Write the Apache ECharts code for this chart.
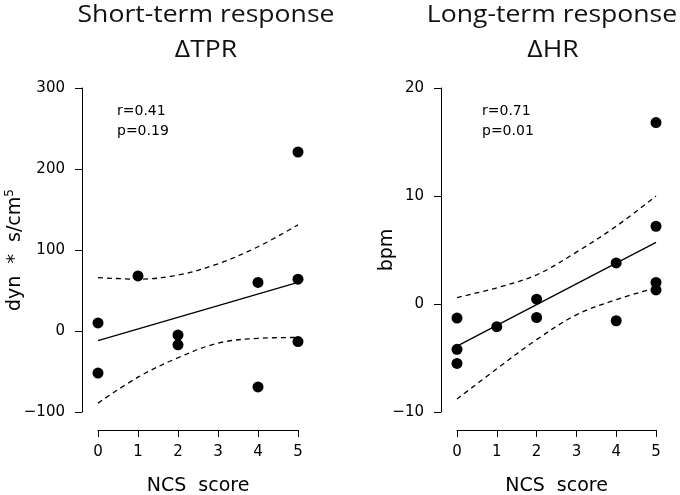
<!DOCTYPE html>
<html>
<head>
<meta charset="utf-8">
<script src="https://cdn.jsdelivr.net/npm/echarts@6/dist/echarts.min.js"></script>
<style>html,body{margin:0;padding:0;background:#fff;}#c{width:680px;height:495px;}</style>
</head>
<body>
<div id="c"></div>
<script>
// ---- data ----
var ncsTicks = [0, 1, 2, 3, 4, 5];

// Short-term response, delta TPR
var tprX = [0, 0, 1, 2, 2, 4, 4, 5, 5, 5];
var tprY = [10, -52, 68, -5, -17, 60, -69, 64, -13, 221];
var tprFitX = [0, 5];
var tprFitY = [-12, 60];
var tprBandX = [0, 1, 2, 3, 4, 5];
var tprUpper = [66, 64, 69, 83, 104, 131];
var tprLower = [-89, -57, -33, -15, -9, -8];

// Long-term response, delta HR
var hrX = [0, 0, 0, 1, 2, 2, 4, 4, 5, 5, 5, 5];
var hrY = [-1.3, -4.2, -5.5, -2.1, 0.45, -1.25, 3.8, -1.55, 16.8, 7.2, 2.0, 1.3];
var hrFitX = [0, 5];
var hrFitY = [-3.9, 5.7];
var hrBandX = [0, 1, 2, 3, 4, 5];
var hrUpper = [0.6, 1.5, 2.7, 4.8, 7.2, 10.0];
var hrLower = [-8.8, -6.0, -3.3, -1.0, 0.4, 1.5];

function pairs(xs, ys) { return xs.map(function (x, i) { return [x, ys[i]]; }); }

var axisFont = 'DejaVu Sans';
var black = '#000';
function minus(v) { return String(v).replace('-', '\u2212'); }

function xAx(gi) {
  return {
    gridIndex: gi, type: 'value', min: 0, max: 5, interval: 1, offset: 18,
    axisLine: { show: true, onZero: false, lineStyle: { color: black, width: 1 } },
    axisTick: { show: true, length: 7, lineStyle: { color: black } },
    axisLabel: { color: black, fontFamily: axisFont, fontSize: 15, margin: 15 },
    splitLine: { show: false },
    name: 'NCS  score', nameLocation: 'middle', nameGap: 47, nameMoveOverlap: false,
    nameTextStyle: { color: black, fontFamily: axisFont, fontSize: 19 }
  };
}
function yAx(gi, min, max, interval, name, gap) {
  return {
    gridIndex: gi, type: 'value', min: min, max: max, interval: interval, offset: 16,
    axisLine: { show: true, onZero: false, lineStyle: { color: black, width: 1 } },
    axisTick: { show: true, length: 7, lineStyle: { color: black } },
    axisLabel: { color: black, fontFamily: axisFont, fontSize: 15, margin: 17, formatter: minus },
    splitLine: { show: false },
    name: name, nameLocation: 'middle', nameGap: gap, nameRotate: 90, nameMoveOverlap: false,
    nameTextStyle: {
      color: black, fontFamily: axisFont, fontSize: 19,
      rich: { sup: { fontFamily: axisFont, fontSize: 12, color: black, padding: [0, 0, 10, 0] } }
    }
  };
}
function scatter(gi, xs, ys) {
  return { type: 'scatter', xAxisIndex: gi, yAxisIndex: gi, data: pairs(xs, ys), symbolSize: 11,
    itemStyle: { color: black, opacity: 1 }, clip: false, z: 5, silent: true };
}
function line(gi, xs, ys, dashed) {
  return { type: 'line', xAxisIndex: gi, yAxisIndex: gi, data: pairs(xs, ys), showSymbol: false,
    smooth: dashed ? 0.35 : false, clip: false, silent: true,
    lineStyle: { color: black, width: 1.3, opacity: 1, type: dashed ? [5, 4] : 'solid' } };
}
function titleText(txt, cx, cy) {
  return { type: 'text', x: cx, y: cy, scaleX: 1.13, scaleY: 1,
    style: { text: txt, x: 0, y: 0, textAlign: 'center', textVerticalAlign: 'middle', align: 'center', verticalAlign: 'middle',
      font: '23.5px "Open Sans"', fill: '#111' } };
}

var chart = echarts.init(document.getElementById('c'), null, { renderer: 'canvas' });
chart.setOption({
  backgroundColor: '#fff',
  animation: false,
  graphic: [
    titleText('Short-term response', 206, 15),
    titleText('ΔTPR', 206, 50),
    titleText('Long-term response', 552, 15),
    titleText('ΔHR', 553, 50),
    { type: 'text', left: 117, top: 101, style: { text: 'r=0.41\np=0.19', font: '14px "DejaVu Sans"', lineHeight: 20, fill: black } },
    { type: 'text', left: 482, top: 101, style: { text: 'r=0.71\np=0.01', font: '14px "DejaVu Sans"', lineHeight: 20, fill: black } }
  ],
  grid: [
    { left: 98, top: 88, width: 200, height: 324, containLabel: false, outerBoundsMode: 'none' },
    { left: 457, top: 88, width: 199, height: 324, containLabel: false, outerBoundsMode: 'none' }
  ],
  xAxis: [xAx(0), xAx(1)],
  yAxis: [
    yAx(0, -100, 300, 100, 'dyn  *  s/cm{sup|5}', 56),
    yAx(1, -10, 20, 10, 'bpm', 44)
  ],
  series: [
    line(0, tprFitX, tprFitY, false),
    line(0, tprBandX, tprUpper, true),
    line(0, tprBandX, tprLower, true),
    scatter(0, tprX, tprY),
    line(1, hrFitX, hrFitY, false),
    line(1, hrBandX, hrUpper, true),
    line(1, hrBandX, hrLower, true),
    scatter(1, hrX, hrY)
  ]
});
</script>
</body>
</html>
